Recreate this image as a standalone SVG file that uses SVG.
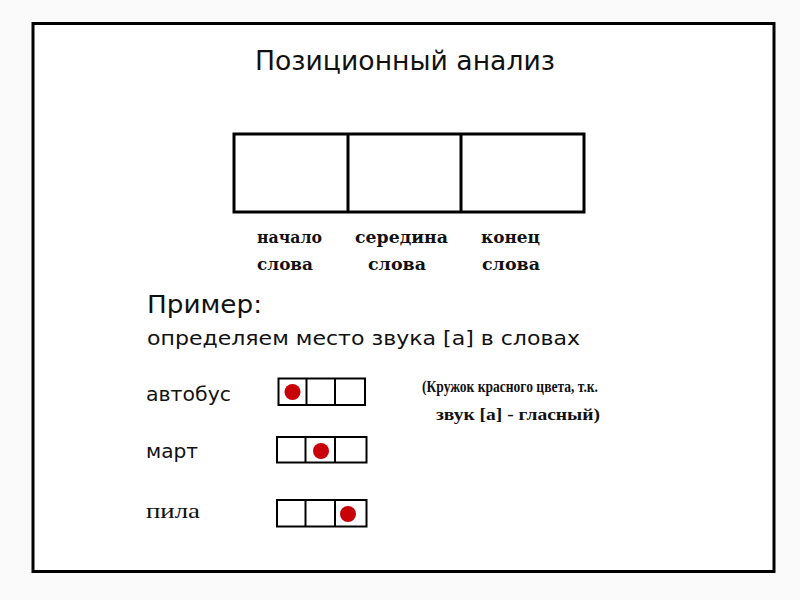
<svg xmlns="http://www.w3.org/2000/svg" width="800" height="600" viewBox="0 0 800 600">
<style>
.frame{fill:#ffffff;stroke:#000;stroke-width:3}
.big{fill:#fff;stroke:#000;stroke-width:3}
.small{fill:#fff;stroke:#000;stroke-width:2}
.dot{fill:#c80008}
.hand{font-family:"DejaVu Sans","Liberation Sans",sans-serif;fill:#111;font-weight:normal}
.mono{font-family:"DejaVu Serif","Liberation Serif",serif;font-size:17px;font-weight:bold;fill:#111}
.serif{font-family:"Liberation Serif","DejaVu Serif",serif;font-size:16px;font-weight:bold;fill:#111}
</style>
<rect x="0" y="0" width="800" height="600" fill="#fafafa"/>
<rect class="frame" x="33" y="23.5" width="741" height="548"/>
<text class="hand" x="255" y="70" font-size="27" textLength="300" lengthAdjust="spacingAndGlyphs">Позиционный анализ</text>
<g id="positions">
<rect class="big" x="234" y="134" width="350" height="78"/>
<line x1="348" y1="134" x2="348" y2="212" stroke="#000" stroke-width="3"/>
<line x1="461" y1="134" x2="461" y2="212" stroke="#000" stroke-width="3"/>
<text class="mono" x="257" y="243" textLength="65" lengthAdjust="spacingAndGlyphs">начало</text>
<text class="mono" x="257" y="270" textLength="56" lengthAdjust="spacingAndGlyphs">слова</text>
<text class="mono" x="355" y="243" textLength="93" lengthAdjust="spacingAndGlyphs">середина</text>
<text class="mono" x="368" y="270" textLength="58" lengthAdjust="spacingAndGlyphs">слова</text>
<text class="mono" x="481" y="243" textLength="59" lengthAdjust="spacingAndGlyphs">конец</text>
<text class="mono" x="482" y="270" textLength="58" lengthAdjust="spacingAndGlyphs">слова</text>
</g>
<text class="hand" x="147" y="313" font-size="25" textLength="115" lengthAdjust="spacingAndGlyphs">Пример:</text>
<text class="hand" x="147" y="345" font-size="20" textLength="433" lengthAdjust="spacingAndGlyphs">определяем место звука [а] в словах</text>
<g id="row-avtobus">
<text class="hand" x="146" y="401" font-size="20" textLength="85" lengthAdjust="spacingAndGlyphs">автобус</text>
<rect class="small" x="278.5" y="378.5" width="86.5" height="26.5"/>
<line x1="306.5" y1="378.5" x2="306.5" y2="405" stroke="#000" stroke-width="2"/>
<line x1="335" y1="378.5" x2="335" y2="405" stroke="#000" stroke-width="2"/>
<circle class="dot" cx="292.5" cy="392" r="8"/>
</g>
<g id="row-mart">
<text class="hand" x="146" y="458" font-size="20" textLength="52" lengthAdjust="spacingAndGlyphs">март</text>
<rect class="small" x="277" y="437" width="89.5" height="25.5"/>
<line x1="305.5" y1="437" x2="305.5" y2="462.5" stroke="#000" stroke-width="2"/>
<line x1="335" y1="437" x2="335" y2="462.5" stroke="#000" stroke-width="2"/>
<circle class="dot" cx="321" cy="451" r="8"/>
</g>
<g id="row-pila">
<text x="146" y="518" font-family="Liberation Serif, DejaVu Serif, serif" font-size="21" fill="#111" textLength="54" lengthAdjust="spacingAndGlyphs">пила</text>
<rect class="small" x="277" y="500" width="89.5" height="26.5"/>
<line x1="305.5" y1="500" x2="305.5" y2="526.5" stroke="#000" stroke-width="2"/>
<line x1="335" y1="500" x2="335" y2="526.5" stroke="#000" stroke-width="2"/>
<circle class="dot" cx="348" cy="514" r="8"/>
</g>
<g id="note">
<text class="serif" x="422" y="392" textLength="176" lengthAdjust="spacingAndGlyphs">(Кружок красного цвета, т.к.</text>
<text class="serif" x="436" y="420" textLength="164" lengthAdjust="spacingAndGlyphs">звук [а] - гласный)</text>
</g>
</svg>
